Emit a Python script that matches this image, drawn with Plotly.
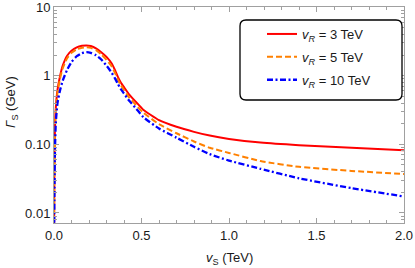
import plotly.graph_objects as go

# ---- data ----
vs = [0.0, 0.002, 0.005, 0.01, 0.02, 0.035, 0.05, 0.075, 0.1, 0.13, 0.16, 0.185,
      0.21, 0.24, 0.27, 0.30, 0.33, 0.35, 0.365, 0.38, 0.40, 0.43, 0.47, 0.51, 0.6,
      0.7, 0.8, 0.89, 1.0, 1.18, 1.4, 1.7, 2.0]

gamma_3tev = [0.003, 0.04, 0.15, 0.33, 0.62, 1.0, 1.4, 1.95, 2.3, 2.58, 2.72, 2.76,
              2.7, 2.5, 2.2, 1.88, 1.5, 1.18, 0.96, 0.81, 0.68, 0.53, 0.41, 0.32, 0.225,
              0.18, 0.152, 0.134, 0.12, 0.106, 0.097, 0.089, 0.082]

gamma_5tev = [0.003, 0.035, 0.13, 0.3, 0.56, 0.92, 1.28, 1.8, 2.15, 2.42, 2.56, 2.6,
              2.54, 2.35, 2.05, 1.7, 1.36, 1.08, 0.88, 0.74, 0.62, 0.48, 0.37, 0.29, 0.197,
              0.145, 0.11, 0.089, 0.075, 0.057, 0.047, 0.041, 0.037]

gamma_10tev = [0.003, 0.015, 0.07, 0.2, 0.4, 0.62, 0.85, 1.22, 1.58, 1.92, 2.13, 2.2,
               2.15, 1.98, 1.72, 1.4, 1.1, 0.9, 0.76, 0.65, 0.55, 0.43, 0.33, 0.25, 0.17,
               0.125, 0.092, 0.072, 0.058, 0.044, 0.032, 0.023, 0.0174]

series_names = ["<i>v</i><sub><i>R</i></sub> = 3 TeV",
                "<i>v</i><sub><i>R</i></sub> = 5 TeV",
                "<i>v</i><sub><i>R</i></sub> = 10 TeV"]

y_tickvals = [0.01, 0.1, 1, 10]
y_ticktext = ["0.01", "0.10", "1", "10"]
x_tickvals = [0.0, 0.5, 1.0, 1.5, 2.0]
x_ticktext = ["0.0", "0.5", "1.0", "1.5", "2.0"]

# ---- styles ----
FONT = "Liberation Sans, Arial, sans-serif"
FRAME = "#a0a0a0"
TXT = "#1a1a1a"
styles = [
    dict(color="rgb(255,0,0)", width=2, dash="solid"),
    dict(color="rgb(255,128,0)", width=2, dash="6px,3px"),
    dict(color="rgb(0,0,255)", width=2.3, dash="6px,2.5px,2px,2.5px"),
]

fig = go.Figure()
for i, (name, ys) in enumerate(zip(series_names, [gamma_3tev, gamma_5tev, gamma_10tev])):
    fig.add_trace(go.Scatter(x=vs, y=ys, mode="lines", name=name,
                             line=dict(shape="spline", smoothing=0.5, **styles[i]),
                             legendgroup=str(i)))

minor_y = [m * 10 ** e for e in range(-3, 1) for m in range(2, 10)]

W, H = 415, 268
ml, mr, mt, mb = 54, 11, 7, 45
pw, ph = W - ml - mr, H - mt - mb

fig.update_layout(
    width=W, height=H, autosize=False,
    margin=dict(l=ml, r=mr, t=mt, b=mb, pad=0, autoexpand=False),
    paper_bgcolor="white", plot_bgcolor="white",
    font=dict(family=FONT, size=13, color=TXT),
    showlegend=True,
    legend=dict(x=(262 - ml) / pw, y=(H - mb - 19) / ph, xanchor="left", yanchor="top",
                bgcolor="rgba(0,0,0,0)", borderwidth=0, traceorder="grouped",
                tracegroupgap=3, font=dict(family=FONT, size=13, color=TXT)),
    xaxis=dict(range=[0, 2.0], tickmode="array", tickvals=x_tickvals, ticktext=x_ticktext,
               ticks="inside", ticklen=5, tickwidth=1, tickcolor=FRAME, automargin=False,
               ticklabeloverflow="allow",
               showline=True, linecolor=FRAME, linewidth=1, mirror="allticks",
               showgrid=False, zeroline=False,
               tickfont=dict(family=FONT, size=13, color=TXT),
               minor=dict(tickmode="linear", tick0=0, dtick=0.1, ticks="inside",
                          ticklen=3, tickcolor=FRAME, showgrid=False)),
    yaxis=dict(type="log", range=[-2.146, 1.0005], tickmode="array", tickvals=y_tickvals,
               ticktext=y_ticktext, ticks="inside", ticklen=5, tickwidth=1, tickcolor=FRAME,
               automargin=False, ticklabeloverflow="allow",
               showline=True, linecolor=FRAME, linewidth=1, mirror="allticks",
               showgrid=False, zeroline=False,
               tickfont=dict(family=FONT, size=13, color=TXT),
               minor=dict(tickmode="array", tickvals=minor_y, ticks="inside",
                          ticklen=3, tickcolor=FRAME, showgrid=False)),
)

# axis titles as annotations
fig.add_annotation(text="<i>Γ</i><sub>S</sub> (GeV)", xref="paper", yref="paper",
                   x=(12 - ml) / pw, y=(H - mb - 102) / ph, textangle=-90,
                   showarrow=False, xanchor="center", yanchor="middle",
                   font=dict(family=FONT, size=13, color=TXT))
fig.add_annotation(text="<i>v</i><sub>S</sub> (TeV)", xref="paper", yref="paper",
                   x=0.5, y=-(258 - (H - mb)) / ph, showarrow=False,
                   xanchor="center", yanchor="middle",
                   font=dict(family=FONT, size=13, color=TXT))

# rounded legend frame
x0, x1, y0, y1 = 240, 402, 20, 100  # pixels
r = 6
def px(x):
    return (x - ml) / pw
def py(y):
    return (H - mb - y) / ph
path = (f"M {px(x0 + r)},{py(y0)} L {px(x1 - r)},{py(y0)} Q {px(x1)},{py(y0)} {px(x1)},{py(y0 + r)} "
        f"L {px(x1)},{py(y1 - r)} Q {px(x1)},{py(y1)} {px(x1 - r)},{py(y1)} "
        f"L {px(x0 + r)},{py(y1)} Q {px(x0)},{py(y1)} {px(x0)},{py(y1 - r)} "
        f"L {px(x0)},{py(y0 + r)} Q {px(x0)},{py(y0)} {px(x0 + r)},{py(y0)} Z")
fig.add_shape(type="path", path=path, xref="paper", yref="paper",
              line=dict(color="black", width=1.3), fillcolor="white", layer="above")

post = ("document.documentElement.style.margin='0';document.body.style.margin='0';"
        "document.body.style.padding='0';"
        "var gd=document.getElementById('{plot_id}');"
        "gd.style.position='absolute';gd.style.top='0px';gd.style.left='0px';")
fig.write_html("out.html", config={"displayModeBar": False}, post_script=post)
